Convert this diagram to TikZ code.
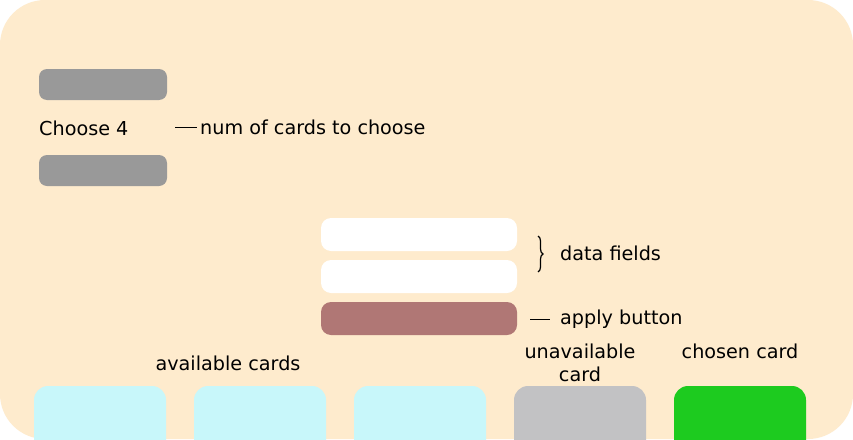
\documentclass[tikz,border=0pt]{standalone}
\usepackage{fontspec}
\setmainfont{DejaVu Sans}
\usetikzlibrary{decorations.pathreplacing}
\definecolor{bgc}{HTML}{FEEBCD}
\definecolor{barg}{HTML}{999999}
\definecolor{applyc}{HTML}{B07775}
\definecolor{availc}{HTML}{C8F7FA}
\definecolor{unavc}{HTML}{C2C2C4}
\definecolor{chosenc}{HTML}{1DCB1F}
\tikzset{
  bar/.style={fill=barg, rounded corners=8pt, draw=none},
  field/.style={fill=white, rounded corners=10pt, draw=none},
  card/.style={rounded corners=14pt, draw=none},
  lbl/.style={font=\fontsize{19.2}{22}\selectfont, inner sep=0pt},
  lead/.style={line width=1pt, black},
}
\begin{document}
\begin{tikzpicture}[x=1pt,y=-1pt]
\useasboundingbox (0,0) rectangle (853,439);
\fill[white] (0,0) rectangle (853,439);
\fill[bgc, rounded corners=45pt] (0,0) rectangle (853,439);
% gray bars
\fill[bar] (39,69) rectangle (167,100);
\fill[bar] (39,155) rectangle (167,186);
\node[lbl, anchor=west] (choose) at (39,128) {Choose 4};
\node[lbl, anchor=west] (numlbl) at (200,127) {num of cards to choose};
\coordinate (l1a) at (175,127);
\draw[lead] (l1a) -- ([xshift=-3pt]numlbl.west);
% fields
\fill[field] (321,218) rectangle (517,251);
\fill[field] (321,260) rectangle (517,293);
\fill[applyc, rounded corners=10pt] (321,302) rectangle (517,335);
\coordinate (bra) at (538,236);
\coordinate (brb) at (538,272);
\draw[line width=1.2pt, decorate, decoration={brace, amplitude=5pt}] (bra) -- (brb);
\node[lbl, anchor=west] (df) at (560,253) {data fields};
\node[lbl, anchor=west] (ab) at (560,319) {apply button};
\coordinate (l2a) at (530,319);
\draw[lead] (l2a) -- ([xshift=-10pt]ab.west);
% cards
\fill[card, availc] (34,386) rectangle (166,460);
\fill[card, availc] (194,386) rectangle (326,460);
\fill[card, availc] (354,386) rectangle (486,460);
\fill[card, unavc] (514,386) rectangle (646,460);
\fill[card, chosenc] (674,386) rectangle (806,460);
\node[lbl] (avail) at (228,363) {available cards};
\node[lbl, align=center, font=\fontsize{19.2}{23}\selectfont] (unav) at (580,363) {unavailable\\card};
\node[lbl] (chosen) at (740,351) {chosen card};
\end{tikzpicture}
\end{document}
